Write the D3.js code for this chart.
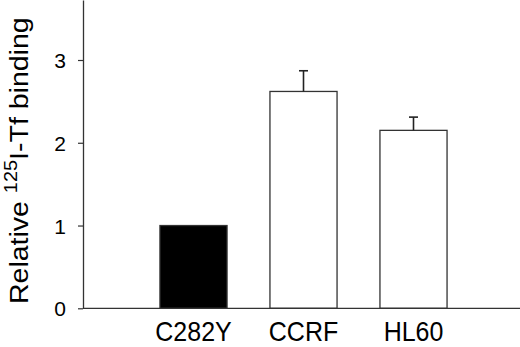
<!DOCTYPE html>
<html>
<head>
<meta charset="utf-8">
<script src="https://cdn.jsdelivr.net/npm/d3@7"></script>
<style>
  body { margin: 0; background: #fff; }
  svg { display: block; font-family: "Liberation Sans", Arial, sans-serif; }
</style>
</head>
<body>
<div id="chart"></div>
<script>
// data
var categories = ["C282Y", "CCRF", "HL60"];
var values = [1.0, 2.62, 2.15];
var errors = [0, 0.25, 0.16];
var fills = ["#000", "#fff", "#fff"];
var yTicks = [0, 1, 2, 3];

var width = 520, height = 347;

var svg = d3.select("#chart")
	.append("svg")
	.attr("width", width)
	.attr("height", height);

var x = d3.scaleBand()
	.domain(categories)
	.range([138.5, 468.5])
	.paddingInner(0.39)
	.paddingOuter(0.195);

var y = d3.scaleLinear()
	.domain([0, 3.725])
	.range([308.3, 0]);

// bars
svg.selectAll("rect.bar")
	.data(categories)
	.enter()
	.append("rect")
	.attr("class", "bar")
	.attr("x", function(d){ return x(d); })
	.attr("y", function(d, i){ return y(values[i]); })
	.attr("width", x.bandwidth())
	.attr("height", function(d, i){ return y(0) - y(values[i]); })
	.style("fill", function(d, i){ return fills[i]; })
	.style("stroke", "#333")
	.style("stroke-width", 1.3);

// error bars (upper only)
var errs = svg.selectAll("g.err")
	.data(categories.filter(function(d, i){ return errors[i] > 0; }))
	.enter()
	.append("g")
	.attr("class", "err")
	.style("stroke", "#222");

errs.append("line")
	.attr("x1", function(d){ return x(d) + x.bandwidth() / 2; })
	.attr("x2", function(d){ return x(d) + x.bandwidth() / 2; })
	.attr("y1", function(d){ var i = categories.indexOf(d); return y(values[i]); })
	.attr("y2", function(d){ var i = categories.indexOf(d); return y(values[i] + errors[i]); })
	.style("stroke-width", 1.6);

errs.append("line")
	.attr("x1", function(d){ return x(d) + x.bandwidth() / 2 - 4.5; })
	.attr("x2", function(d){ return x(d) + x.bandwidth() / 2 + 4.5; })
	.attr("y1", function(d){ var i = categories.indexOf(d); return y(values[i] + errors[i]); })
	.attr("y2", function(d){ var i = categories.indexOf(d); return y(values[i] + errors[i]); })
	.style("stroke-width", 1.6);

// y axis
var yAxis = svg.append("g")
	.attr("transform", "translate(83,0)")
	.call(d3.axisLeft(y).tickValues(yTicks).tickFormat(d3.format("d")).tickSize(5).tickSizeOuter(0).tickPadding(12));

yAxis.select(".domain").style("stroke", "#333").style("stroke-width", 1.3);
yAxis.selectAll(".tick line").style("stroke", "#333").style("stroke-width", 1.2);
yAxis.selectAll(".tick text")
	.style("font-size", "21px")
	.style("font-family", "Liberation Sans, Arial, sans-serif")
	.style("fill", "#000")
	.attr("dy", "0.36em");

// x axis line
svg.append("line")
	.attr("x1", 83)
	.attr("x2", width)
	.attr("y1", y(0))
	.attr("y2", y(0))
	.style("stroke", "#333")
	.style("stroke-width", 1.3);

// category labels (kept just inside the bottom edge)
svg.selectAll("text.cat")
	.data(categories)
	.enter()
	.append("text")
	.attr("class", "cat")
	.attr("transform", function(d){ return "translate(" + (x(d) + x.bandwidth() / 2) + ",341) scale(1,1.1)"; })
	.attr("text-anchor", "middle")
	.style("font-size", "25px")
	.text(function(d){ return d; });

// y title with superscript
var title = svg.append("text")
	.attr("transform", "translate(27.5,304) rotate(-90) scale(1.14,1)")
	.style("font-size", "25px");

title.append("tspan").text("Relative ");
title.append("tspan").attr("dy", -10.5).style("font-size", "17.5px").text("125");
title.append("tspan").attr("dy", 10.5).text("I-Tf binding");
</script>
</body>
</html>
